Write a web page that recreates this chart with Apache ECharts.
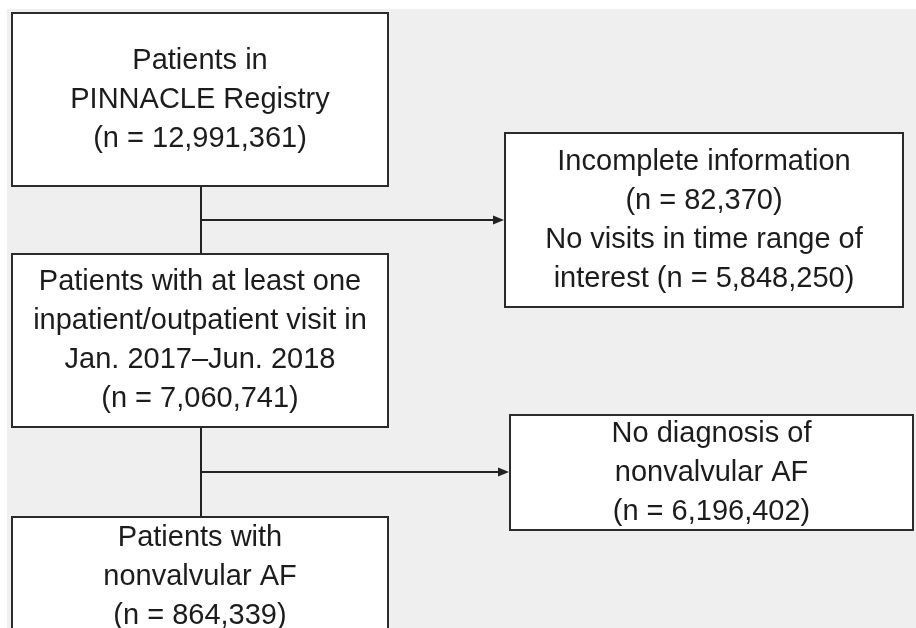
<!DOCTYPE html>
<html style="height: 100%">
<head>
    <meta charset="utf-8">
</head>
<body style="height: 100%; margin: 0; background: #fff">
    <div id="container" style="width: 916px; height: 628px;"></div>
    <script type="text/javascript" src="https://cdn.jsdelivr.net/npm/echarts@6/dist/echarts.min.js"></script>
    <script type="text/javascript">
        // flow data
        var stepLabels = ['Patients in\nPINNACLE Registry', 'Patients with at least one\ninpatient/outpatient visit in\nJan. 2017\u2013Jun. 2018', 'Patients with\nnonvalvular AF'];
        var stepCounts = [12991361, 7060741, 864339];
        var excludedReasons = ['Incomplete information', 'No visits in time range of\ninterest', 'No diagnosis of\nnonvalvular AF'];
        var excludedCounts = [82370, 5848250, 6196402];
        var excludedAfterStep = [0, 0, 1];

        // layout (pixels)
        var stepBoxes = [[12, 13, 376, 173], [12, 254, 376, 173], [12, 517, 376, 120]];
        var exclBoxes = [[505, 133, 398, 174], [510, 415, 403, 115]];
        var countInline = [false, true, false];
        var trunkX = 201;
        var arrowY = [220, 472];
        var font = '29px "Liberation Sans", Arial, sans-serif';
        var lineColor = '#222';

        function fmt(n) { return '(n = ' + n.toLocaleString('en-US') + ')'; }

        var dom = document.getElementById('container');
        var myChart = echarts.init(dom);
        var els = [];

        els.push({ type: 'rect', z: 0, shape: { x: 7, y: 9, width: 909, height: 619 }, style: { fill: '#efefef' } });

        function box(b, text) {
            els.push({ type: 'rect', z: 2, shape: { x: b[0], y: b[1], width: b[2], height: b[3] },
                style: { fill: '#fff', stroke: '#2b2b2b', lineWidth: 2 } });
            els.push({ type: 'text', z: 3, style: { text: text, x: b[0] + b[2] / 2, y: b[1] + b[3] / 2,
                align: 'center', verticalAlign: 'middle', font: font, lineHeight: 39, fill: '#1c1c1c' } });
        }

        stepLabels.forEach(function (lbl, i) {
            box(stepBoxes[i], lbl + '\n' + fmt(stepCounts[i]));
        });

        exclBoxes.forEach(function (b, k) {
            var parts = [];
            excludedReasons.forEach(function (r, i) {
                if (excludedAfterStep[i] !== k) return;
                parts.push(r + (countInline[i] ? ' ' : '\n') + fmt(excludedCounts[i]));
            });
            box(b, parts.join('\n'));

            var from = stepBoxes[k], to = stepBoxes[k + 1];
            var y = arrowY[k];
            els.push({ type: 'line', z: 1, shape: { x1: trunkX, y1: from[1] + from[3], x2: trunkX, y2: to[1] },
                style: { stroke: lineColor, lineWidth: 2 } });
            els.push({ type: 'line', z: 1, shape: { x1: trunkX, y1: y, x2: b[0] - 9, y2: y },
                style: { stroke: lineColor, lineWidth: 2 } });
            els.push({ type: 'polygon', z: 1, shape: { points: [[b[0] - 1, y], [b[0] - 12, y - 4.5], [b[0] - 12, y + 4.5]] },
                style: { fill: lineColor } });
        });

        option = {
            backgroundColor: '#fff',
            graphic: { elements: els }
        };
        myChart.setOption(option, true);
    </script>
</body>
</html>
